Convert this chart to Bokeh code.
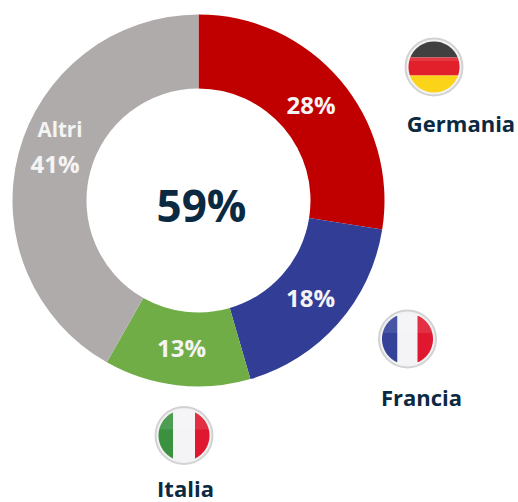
import numpy as np
from bokeh.plotting import figure
from bokeh.models import ColumnDataSource, Range1d
from bokeh.core.properties import value
from bokeh.embed import file_html
from bokeh.resources import INLINE

# Data
categories = ["Germania", "Francia", "Italia", "Altri"]
slice_labels = ["28%", "18%", "13%", "41%"]
slice_shares = [27.5, 18.0, 12.7, 41.8]
slice_colors = ["#c00000", "#323e96", "#70ad47", "#afabab"]
center_label = "59%"

W, H = 518, 502
FONT = value("Open Sans")
NAVY = "#0b2a42"

def px(x):
    return x
def py(y):
    return H - y

p = figure(width=W, height=H, output_backend="svg", toolbar_location=None,
           x_range=Range1d(0, W), y_range=Range1d(0, H), min_border=0)
p.axis.visible = False
p.grid.visible = False
p.outline_line_color = None
p.background_fill_color = "white"

# Donut
CX, CY, R_OUT, R_IN = 198, 200, 186, 112
cum = np.cumsum([0] + slice_shares)
starts = np.pi / 2 - 2 * np.pi * cum[1:] / 100
ends = np.pi / 2 - 2 * np.pi * cum[:-1] / 100
src = ColumnDataSource(dict(start=starts, end=ends, color=slice_colors, cat=categories))
p.annular_wedge(x=px(CX), y=py(CY), inner_radius=R_IN, outer_radius=R_OUT,
                start_angle="start", end_angle="end", color="color",
                line_color=None, source=src)

# Slice labels, at the reference's positions
lab_x = [310.5, 310, 181, 54.5]
lab_y = [104, 297, 347, 163]
p.text(x=[px(v) for v in lab_x], y=[py(v) for v in lab_y], text=slice_labels,
       text_font=FONT, text_font_style="bold", text_font_size="24px",
       text_color="#f4f4f4", text_align="center", text_baseline="middle")
p.text(x=[px(59.5)], y=[py(128)], text=["Altri"], text_font=FONT, text_font_style="bold",
       text_font_size="20.5px", text_color="#f4f4f4", text_align="center", text_baseline="middle")
p.text(x=[px(201)], y=[py(204)], text=[center_label], text_font=FONT, text_font_style="bold",
       text_font_size="44px", text_color=NAVY, text_align="center", text_baseline="middle")

# Flags
def chord_patch(cx, cy, r, x0, x1, y0, y1, n=60):
    """Part of a circle between page-pixel bounds."""
    rows = np.linspace(max(y0, -r), min(y1, r), n)
    half = np.sqrt(np.maximum(r * r - rows * rows, 0))
    left = np.maximum(-half, x0)
    right = np.minimum(half, x1)
    ok = right >= left
    X = np.concatenate([left[ok], right[ok][::-1]])
    Y = np.concatenate([rows[ok], rows[ok][::-1]])
    return cx + X, cy + Y

def flag(cx, cy, parts, r=25.5):
    p.scatter(x=[px(cx)], y=[py(cy)], size=2 * (r + 3), marker="circle",
              fill_color="#f2f2f2", line_color="#d2d2d2", line_width=2)
    for (x0, x1, y0, y1, col) in parts:
        X, Y = chord_patch(cx, cy, r, x0, x1, y0, y1)
        p.patch(px(X), py(Y), fill_color=col, line_color=None)
    X, Y = chord_patch(cx, cy, r, -99, 99, -99, -6)
    p.patch(px(X), py(Y), fill_color="white", fill_alpha=0.1, line_color=None)

flag(433.5, 66.5, [(-99, 99, -99, -9.5, "#2b2b2b"), (-99, 99, -9.5, 8.5, "#e2202c"), (-99, 99, 8.5, 99, "#fbd318")])
flag(407, 338.5, [(-99, -10, -99, 99, "#34429a"), (-10, 10, -99, 99, "#f4f4f6"), (10, 99, -99, 99, "#e0182f")])
flag(183.5, 435, [(-99, -11, -99, 99, "#3a9241"), (-11, 11, -99, 99, "#f4f4f6"), (11, 99, -99, 99, "#e0182f")])

# Country names
name_x = [460.5, 421, 185]
name_y = [122, 396, 487.5]
p.text(x=[px(v) for v in name_x], y=[py(v) for v in name_y], text=categories[:3],
       text_font=FONT, text_font_style="bold", text_font_size="22px",
       text_color=NAVY, text_align="center", text_baseline="middle")

open("out.html", "w").write(file_html(p, INLINE))
